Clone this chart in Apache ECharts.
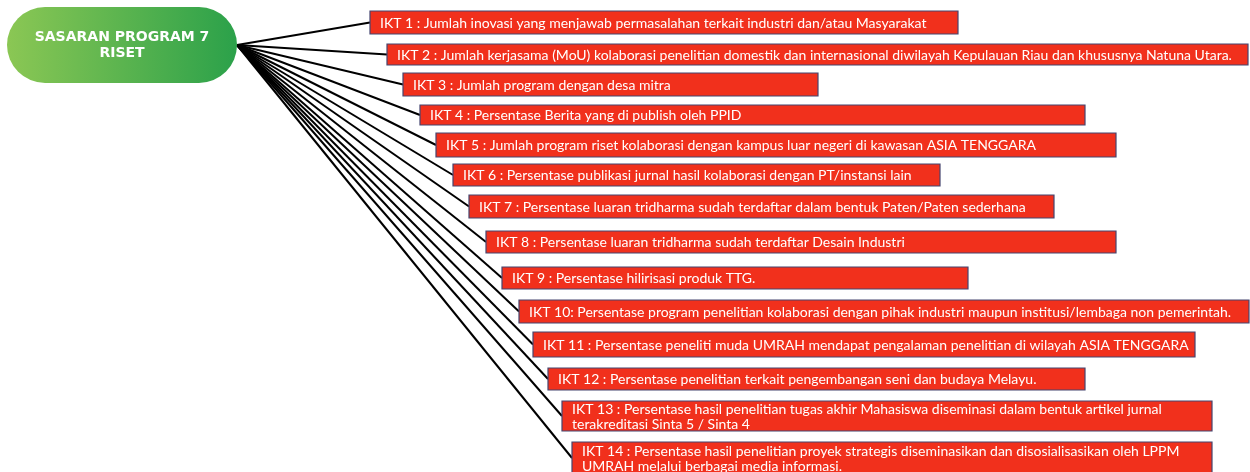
<!DOCTYPE html>
<html>
<head>
<meta charset="utf-8">
<script src="https://cdn.jsdelivr.net/npm/echarts@6/dist/echarts.min.js"></script>
<style>
html,body{margin:0;padding:0;background:#fff;}
#main{width:1250px;height:472px;}
</style>
</head>
<body>
<div id="main"></div>
<script>
// ---- content ----
const rootTitle = ['SASARAN PROGRAM 7', 'RISET'];
const ikt = [
  'IKT 1 : Jumlah inovasi yang menjawab permasalahan terkait industri dan/atau Masyarakat',
  'IKT 2 : Jumlah kerjasama (MoU) kolaborasi penelitian domestik dan internasional diwilayah Kepulauan Riau dan khususnya Natuna Utara.',
  'IKT 3 : Jumlah program dengan desa mitra',
  'IKT 4 : Persentase Berita yang di publish oleh PPID',
  'IKT 5 : Jumlah program riset kolaborasi dengan kampus luar negeri di kawasan ASIA TENGGARA',
  'IKT 6 : Persentase publikasi jurnal hasil kolaborasi dengan PT/instansi lain',
  'IKT 7 : Persentase luaran tridharma sudah terdaftar dalam bentuk Paten/Paten sederhana',
  'IKT 8 : Persentase luaran tridharma sudah terdaftar Desain Industri',
  'IKT 9 : Persentase hilirisasi produk TTG.',
  'IKT 10: Persentase program penelitian kolaborasi dengan pihak industri maupun institusi/lembaga non pemerintah.',
  'IKT 11 : Persentase peneliti muda UMRAH mendapat pengalaman penelitian di wilayah ASIA TENGGARA',
  'IKT 12 : Persentase penelitian terkait pengembangan seni dan budaya Melayu.',
  'IKT 13 : Persentase hasil penelitian tugas akhir Mahasiswa diseminasi dalam bentuk artikel jurnal\nterakreditasi Sinta 5 / Sinta 4',
  'IKT 14 : Persentase hasil penelitian proyek strategis diseminasikan dan disosialisasikan oleh LPPM\nUMRAH melalui berbagai media informasi.'
];

// ---- layout (diagram geometry, in canvas units) ----
const boxLeft   = [370, 387, 403, 420, 436, 453, 469, 486, 502, 519, 533, 548, 562, 572];
const boxRight  = [958, 1248, 818, 1085, 1116, 940, 1054, 1116, 968, 1249, 1195, 1085, 1212, 1212];
const boxTop    = [11, 44, 73, 105, 133, 164, 195, 231, 267, 300, 332, 368, 401, 442];
const boxBottom = [34, 65, 96, 125, 157, 186, 218, 253, 289, 323, 357, 390, 431, 474];
const rootBox = [7, 7, 237, 83];
const hub = [237, 45];

const chart = echarts.init(document.getElementById('main'), null, {renderer: 'canvas'});

const boxData = ikt.map((t, i) => [boxLeft[i], boxTop[i], boxRight[i], boxBottom[i], i]);
const linkData = ikt.map((t, i) => [hub[0], hub[1], boxLeft[i], (boxTop[i] + boxBottom[i]) / 2, i]);

const option = {
  animation: false,
  backgroundColor: '#ffffff',
  grid: {left: 0, right: 0, top: 0, bottom: 0},
  xAxis: {type: 'value', min: 0, max: 1250, show: false},
  yAxis: {type: 'value', min: 0, max: 472, inverse: true, show: false},
  series: [
    {
      type: 'custom',
      coordinateSystem: 'cartesian2d',
      data: linkData,
      renderItem: function (params, api) {
        const a = api.coord([api.value(0), api.value(1)]);
        const b = api.coord([api.value(2), api.value(3)]);
        return {
          type: 'line',
          shape: {x1: a[0], y1: a[1], x2: b[0], y2: b[1]},
          style: {stroke: '#000000', lineWidth: 2}
        };
      }
    },
    {
      type: 'custom',
      coordinateSystem: 'cartesian2d',
      data: boxData,
      renderItem: function (params, api) {
        const i = api.value(4);
        const p0 = api.coord([api.value(0), api.value(1)]);
        const p1 = api.coord([api.value(2), api.value(3)]);
        return {
          type: 'group',
          children: [
            {
              type: 'rect',
              shape: {x: p0[0], y: p0[1], width: p1[0] - p0[0], height: p1[1] - p0[1]},
              style: {fill: '#f1301c', stroke: '#45456f', lineWidth: 1.2}
            },
            {
              type: 'text',
              style: {
                x: p0[0] + 10, y: (p0[1] + p1[1]) / 2 + 0.5,
                text: ikt[i],
                fill: '#ffffff',
                fontFamily: 'Lato',
                fontSize: 14,
                lineHeight: 15,
                align: 'left',
                verticalAlign: 'middle'
              }
            }
          ]
        };
      }
    },
    {
      type: 'custom',
      coordinateSystem: 'cartesian2d',
      data: [[rootBox[0], rootBox[1], rootBox[2], rootBox[3]]],
      renderItem: function (params, api) {
        const p0 = api.coord([api.value(0), api.value(1)]);
        const p1 = api.coord([api.value(2), api.value(3)]);
        const h = p1[1] - p0[1];
        return {
          type: 'group',
          children: [
            {
              type: 'rect',
              shape: {x: p0[0], y: p0[1], width: p1[0] - p0[0], height: h, r: h / 2},
              style: {
                fill: new echarts.graphic.LinearGradient(0, 0, 1, 0, [
                  {offset: 0, color: '#8bc754'},
                  {offset: 1, color: '#2ba14a'}
                ])
              }
            },
            {
              type: 'text',
              style: {
                x: 122, y: 45,
                text: rootTitle.join('\n'),
                fill: '#ffffff',
                fontFamily: 'DejaVu Sans',
                fontWeight: 'bold',
                fontSize: 14,
                lineHeight: 16,
                align: 'center',
                verticalAlign: 'middle'
              }
            }
          ]
        };
      }
    }
  ]
};
chart.setOption(option);
</script>
</body>
</html>
